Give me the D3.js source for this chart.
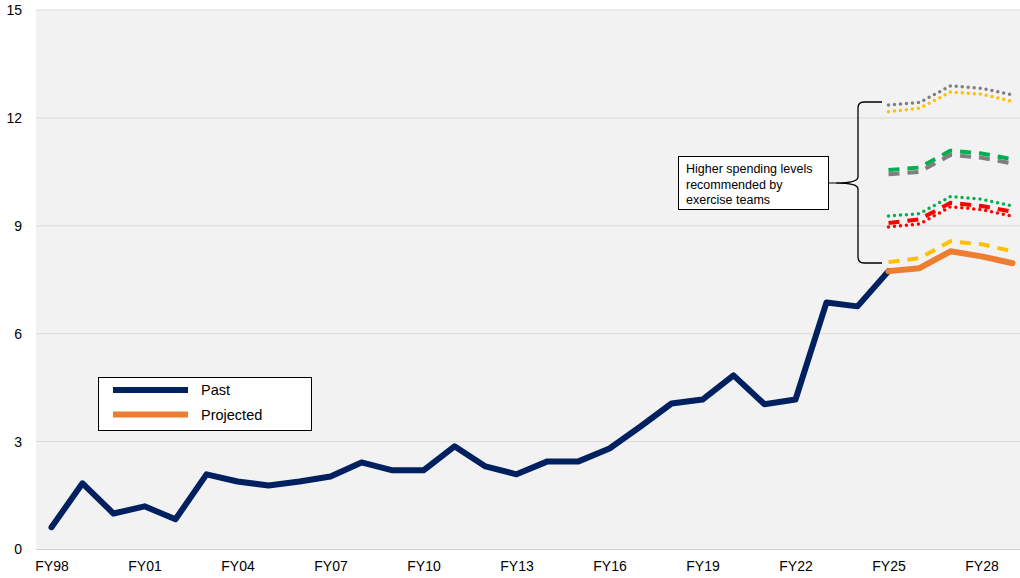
<!DOCTYPE html>
<html>
<head>
<meta charset="utf-8">
<script src="https://cdn.jsdelivr.net/npm/d3@7"></script>
<style>
  html, body { margin: 0; padding: 0; background: #ffffff; }
  svg { display: block; font-family: "Liberation Sans", Arial, sans-serif; }
</style>
</head>
<body>
<svg id="chart" width="1020" height="578"></svg>
<script>
// ---- Data ----
const years = ["FY98","FY99","FY00","FY01","FY02","FY03","FY04","FY05","FY06","FY07",
  "FY08","FY09","FY10","FY11","FY12","FY13","FY14","FY15","FY16","FY17",
  "FY18","FY19","FY20","FY21","FY22","FY23","FY24","FY25","FY26","FY27","FY28","FY29"];
const xTickLabels = ["FY98","FY01","FY04","FY07","FY10","FY13","FY16","FY19","FY22","FY25","FY28"];
const yTicks = [0, 3, 6, 9, 12, 15];

const pastYears = years.slice(0, 28); // FY98..FY25
const pastValues = [0.62, 1.84, 1.0, 1.2, 0.84, 2.09, 1.89, 1.78, 1.89, 2.03,
  2.42, 2.2, 2.2, 2.87, 2.31, 2.09, 2.45, 2.45, 2.81, 3.42,
  4.06, 4.17, 4.84, 4.04, 4.17, 6.87, 6.76, 7.74];

const projYears = ["FY25","FY26","FY27","FY28","FY29"];
const projectedValues = [7.74, 7.82, 8.29, 8.15, 7.96];

const yellowDashed = [7.99, 8.10, 8.57, 8.49, 8.29];
const redDashed    = [9.08, 9.18, 9.64, 9.55, 9.39];
const redDotted    = [8.97, 9.05, 9.53, 9.45, 9.27];
const greenDotted  = [9.27, 9.34, 9.81, 9.74, 9.55];
const greenDashed  = [10.55, 10.62, 11.09, 11.01, 10.85];
const greyDashed   = [10.43, 10.50, 10.97, 10.89, 10.73];
const greyDotted   = [12.36, 12.43, 12.89, 12.82, 12.64];
const yellowDotted = [12.17, 12.27, 12.72, 12.66, 12.46];

const legendLabels = ["Past", "Projected"];
const annotationLines = ["Higher spending levels", "recommended by", "exercise teams"];

// ---- Layout ----
const svg = d3.select("#chart");
const plotLeft = 36, plotRight = 1020, plotTop = 10, plotBottom = 549.5;

const x = d3.scalePoint().domain(years).range([51.5, 1012.5]);
const y = d3.scaleLinear().domain([0, 15]).range([plotBottom, plotTop]);

// background
svg.append("rect").attr("x", plotLeft).attr("y", plotTop)
  .attr("width", plotRight - plotLeft).attr("height", plotBottom - plotTop)
  .attr("fill", "#f2f2f2");

// gridlines
svg.append("g").selectAll("line").data(yTicks).join("line")
  .attr("x1", plotLeft).attr("x2", plotRight)
  .attr("y1", d => y(d)).attr("y2", d => y(d))
  .attr("stroke", d => d === 0 ? "#d0d0d0" : "#d9d9d9").attr("stroke-width", 1);

// y axis labels
const yAxis = d3.axisLeft(y).tickValues(yTicks).tickSize(0).tickPadding(0);
const yg = svg.append("g").attr("transform", "translate(22,0)").call(yAxis);
yg.select(".domain").remove();
yg.selectAll("text").attr("font-size", 14).attr("fill", "#000")
  .attr("font-family", "Liberation Sans, Arial, sans-serif");

// x axis labels
const xAxis = d3.axisBottom(x).tickValues(xTickLabels).tickSize(0).tickPadding(0);
const xg = svg.append("g").attr("transform", `translate(0,${plotBottom + 12})`).call(xAxis);
xg.select(".domain").remove();
xg.selectAll("text").attr("font-size", 14).attr("fill", "#000")
  .attr("font-family", "Liberation Sans, Arial, sans-serif");

// lines
const line = d3.line().x(d => x(d[0])).y(d => y(d[1]));
function series(yrs, vals) { return yrs.map((yr, i) => [yr, vals[i]]); }

function drawLine(data, color, width, dash, cap) {
  svg.append("path").datum(data)
    .attr("d", line)
    .attr("fill", "none")
    .attr("stroke", color)
    .attr("stroke-width", width)
    .attr("stroke-linejoin", "round")
    .attr("stroke-linecap", cap || "round")
    .attr("stroke-dasharray", dash || null);
}

const dashed = "11,8";
const dotted = "0,6";

drawLine(series(projYears, greyDotted), "#7f7f7f", 3.5, dotted, "round");
drawLine(series(projYears, yellowDotted), "#ffc000", 3.5, dotted, "round");
drawLine(series(projYears, greenDashed), "#00b050", 4, dashed, "butt");
drawLine(series(projYears, greyDashed), "#7f7f7f", 4, dashed, "butt");
drawLine(series(projYears, greenDotted), "#00b050", 3.5, dotted, "round");
drawLine(series(projYears, redDashed), "#ff0000", 4, dashed, "butt");
drawLine(series(projYears, redDotted), "#ff0000", 3.5, dotted, "round");
drawLine(series(projYears, yellowDashed), "#ffc000", 4, dashed, "butt");

drawLine(series(pastYears, pastValues), "#002060", 6, null, "round");
drawLine(series(projYears, projectedValues), "#ed7d31", 6, null, "round");

// bracket
const bx = 858, bTop = 102, bBot = 263, bMid = 183, bTip = 882, bPoint = 836;
const bp = d3.path();
bp.moveTo(bTip, bTop);
bp.lineTo(bx + 6, bTop);
bp.quadraticCurveTo(bx, bTop, bx, bTop + 6);
bp.lineTo(bx, bMid - 6);
bp.quadraticCurveTo(bx, bMid, bPoint, bMid);
bp.quadraticCurveTo(bx, bMid, bx, bMid + 6);
bp.lineTo(bx, bBot - 6);
bp.quadraticCurveTo(bx, bBot, bx + 6, bBot);
bp.lineTo(bTip, bBot);
svg.append("path").attr("d", bp.toString()).attr("fill", "none")
  .attr("stroke", "#000").attr("stroke-width", 1.3);

// annotation box
svg.append("line").attr("x1", 829).attr("x2", bPoint).attr("y1", bMid).attr("y2", bMid)
  .attr("stroke", "#000").attr("stroke-width", 1);
svg.append("rect").attr("x", 678.5).attr("y", 156.5).attr("width", 150).attr("height", 53)
  .attr("fill", "#fff").attr("stroke", "#000").attr("stroke-width", 1);
svg.append("g").selectAll("text").data(annotationLines).join("text")
  .attr("x", 686).attr("y", (d, i) => 173 + i * 15.5)
  .attr("font-size", 12.5).attr("fill", "#000").text(d => d);

// legend
svg.append("rect").attr("x", 98.5).attr("y", 377.5).attr("width", 213).attr("height", 53)
  .attr("fill", "#fff").attr("stroke", "#000").attr("stroke-width", 1);
const legendColors = ["#002060", "#ed7d31"];
const lg = svg.append("g").selectAll("g").data(legendLabels).join("g")
  .attr("transform", (d, i) => `translate(0,${390 + i * 24.5})`);
lg.append("line").attr("x1", 113).attr("x2", 188).attr("y1", 0).attr("y2", 0)
  .attr("stroke", (d, i) => legendColors[i]).attr("stroke-width", 6);
lg.append("text").attr("x", 201).attr("y", 5).attr("font-size", 14.5)
  .attr("fill", "#000").text(d => d);
</script>
</body>
</html>
